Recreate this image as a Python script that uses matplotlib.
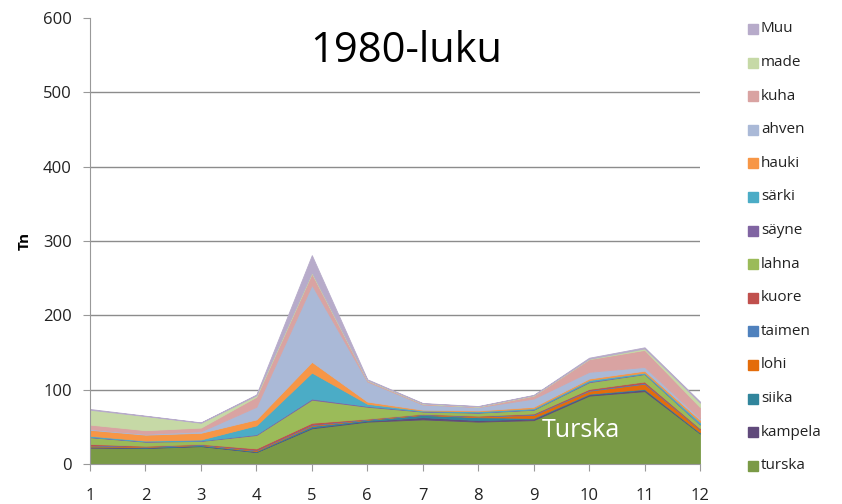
import matplotlib
matplotlib.use('Agg')
import matplotlib.pyplot as plt
from matplotlib.patches import Rectangle
import numpy as np

plt.rcParams['font.family'] = ['Open Sans', 'DejaVu Sans']

# === data (tonnia / kk) ===
months = [1, 2, 3, 4, 5, 6, 7, 8, 9, 10, 11, 12]
species = ['turska', 'kampela', 'siika', 'lohi', 'taimen', 'kuore', 'lahna',
           'säyne', 'särki', 'hauki', 'ahven', 'kuha', 'made', 'Muu']

turska  = [22, 21.5, 24, 16, 48, 57, 60, 57, 59, 92, 98, 41]
kampela = [1, 0.5, 0.5, 0.5, 1, 1, 3, 2, 2, 1.5, 2, 0.5]
siika   = [0.5, 1, 1, 1, 2, 1.5, 3, 4, 1, 1, 1, 1]
lohi    = [1.5, 0.5, 0.5, 1, 1, 0.5, 0.5, 1, 4, 4, 7, 4]
taimen  = [0.5, 0.5, 0.5, 0.5, 1, 0.5, 0.5, 0.5, 1, 1, 1, 0.5]
kuore   = [1.5, 0.5, 0.5, 2, 2.5, 0.5, 0.5, 0.5, 1, 1.5, 2, 1]
lahna   = [9, 5.5, 4, 18, 31, 16, 3, 4, 5, 9, 10, 5]
sayne   = [0.5, 0.5, 0.5, 1, 1.5, 1, 0.5, 0.5, 0.5, 1, 0.5, 0.5]
sarki   = [1.5, 1, 1.5, 12, 35, 3, 1, 1.5, 1.5, 2, 1.5, 3]
hauki   = [8, 8, 9, 8, 14.5, 3, 1, 1, 2, 2, 2.5, 3]
ahven   = [1, 1, 2, 17, 103.5, 27, 7, 4.5, 11, 9, 5, 2]
kuha    = [6, 5, 5, 13.5, 15.5, 1.5, 1, 0.5, 4, 17, 23, 15]
made    = [20, 19, 6.5, 2, 1.5, 0.5, 0.5, 0.5, 0.5, 0.5, 2, 6]
muu     = [1, 0.5, 0.5, 1, 23, 1, 0.5, 0.5, 0.5, 1.5, 1.5, 1.5]

series = [turska, kampela, siika, lohi, taimen, kuore, lahna,
          sayne, sarki, hauki, ahven, kuha, made, muu]

colors = ['#7A9A46', '#604A7B', '#31859C', '#E46C0A', '#4F81BD', '#C0504D',
          '#9BBB59', '#8064A2', '#4BACC6', '#F79646', '#AAB9D7', '#D9A3A2',
          '#C6D9A6', '#B7ABCA']

fig = plt.figure(figsize=(8.42, 5.04), dpi=100)
ax = fig.add_axes([90/842, 1-464/504, 610/842, 446/504])

polys = ax.stackplot(months, *series, colors=colors, linewidth=0.6)
for p, c in zip(polys, colors):
    p.set_edgecolor(c)

ax.set_xlim(1, 12)
ax.set_ylim(0, 600)
ax.set_xticks(months)
ax.set_yticks(range(0, 601, 100))
for y in range(100, 600, 100):
    ax.axhline(y, color='#8c8c8c', lw=1, zorder=0)

for s in ['top', 'right']:
    ax.spines[s].set_visible(False)
for s in ['left', 'bottom']:
    ax.spines[s].set_color('#999999')
ax.tick_params(axis='both', colors='#999999', length=5, labelsize=12,
               labelcolor='#222222')
ax.tick_params(axis='x', pad=12)
ax.tick_params(axis='y', pad=8)

ax.set_ylabel('Tn', fontsize=11, fontweight='bold', labelpad=8)

fig.text(406/842, 1-51/504, '1980-luku', fontsize=30, ha='center',
         va='center', color='black')
ax.text(9.85, 45, 'Turska', fontsize=18, color='white', ha='center',
        va='center')

# legend, Muu at top
for i, (name, col) in enumerate(zip(species[::-1], colors[::-1])):
    yp = 1 - (29 + i * 33.6) / 504
    fig.patches.append(Rectangle((748/842, yp - 5/504), 10/842, 10/504,
                                 transform=fig.transFigure, color=col))
    fig.text(761/842, yp, name, fontsize=11, va='center', color='#222222')

fig.savefig('out.png', dpi=100)
